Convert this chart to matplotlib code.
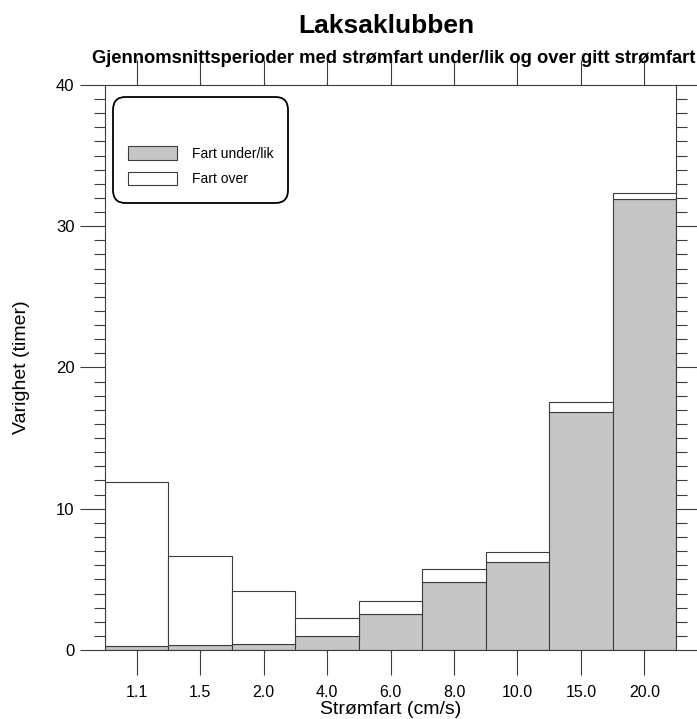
import matplotlib.pyplot as plt
import numpy as np
from matplotlib.patches import FancyBboxPatch

plt.rcParams['font.family'] = ['Liberation Sans', 'DejaVu Sans']

# data
speeds = ["1.1", "1.5", "2.0", "4.0", "6.0", "8.0", "10.0", "15.0", "20.0"]
under = [0.28, 0.38, 0.43, 0.99, 2.53, 4.78, 6.22, 16.86, 31.96]
total = [11.87, 6.69, 4.21, 2.27, 3.50, 5.70, 6.97, 17.54, 32.32]
over = [t - u for t, u in zip(total, under)]

x = np.arange(len(speeds))
edge = '#3c3c3c'

fig = plt.figure(figsize=(6.97, 7.19), dpi=100)
ax = fig.add_axes([105 / 697, 1 - 650 / 719, 571 / 697, 565 / 719])

b1 = ax.bar(x, under, width=1.0, color='#c6c6c6', edgecolor=edge, linewidth=0.8,
            label='Fart under/lik')
b2 = ax.bar(x, over, width=1.0, bottom=under, color='white', edgecolor=edge,
            linewidth=0.8, label='Fart over')

ax.set_xlim(-0.5, len(speeds) - 0.5)
ax.set_ylim(0, 40)

# x ticks at bin centres, bottom and top, pointing outward
ax.set_xticks(x)
ax.set_xticklabels(speeds, fontsize=11.5)
ax.tick_params(axis='x', which='major', direction='out', length=18, width=0.8,
               color=edge, top=True, bottom=True, pad=7.5)

# y ticks: majors every 10, minors every 1, both sides outward
ax.set_yticks([0, 10, 20, 30, 40])
ax.set_yticks(np.arange(0, 41, 1), minor=True)
ax.tick_params(axis='y', which='major', direction='out', length=18, width=0.8,
               color=edge, left=True, right=True, labelsize=12, pad=4)
ax.tick_params(axis='y', which='minor', direction='out', length=8, width=0.8,
               color=edge, left=True, right=True)

for s in ax.spines.values():
    s.set_color(edge)
    s.set_linewidth(0.8)

ax.set_xlabel('Strømfart (cm/s)', fontsize=14, va='center')
ax.xaxis.set_label_coords(0.5, (650 - 710) / 565)
ax.set_ylabel('Varighet (timer)', fontsize=14, va='center')
ax.yaxis.set_label_coords((22 - 105) / 571, 0.5)

fig.text(298 / 697, 1 - 33 / 719, 'Laksaklubben', ha='left', va='baseline',
         fontsize=19, fontweight='bold')
fig.text(92 / 697, 1 - 63 / 719,
         'Gjennomsnittsperioder med strømfart under/lik og over gitt strømfart',
         ha='left', va='baseline', fontsize=13.2, fontweight='bold')

# rounded legend box
box = FancyBboxPatch((113 / 697, 1 - 203 / 719), 175 / 697, 106 / 719,
                     boxstyle='round,pad=0,rounding_size=0.018',
                     transform=fig.transFigure, facecolor='white',
                     edgecolor='black', linewidth=1.3, zorder=5)
fig.add_artist(box)
leg = fig.legend(handles=[b1, b2], loc='upper left',
                 bbox_to_anchor=(128 / 697, 1 - 146 / 719),
                 frameon=False, fontsize=10, handlelength=3.5, handleheight=1.15,
                 labelspacing=0.8, handletextpad=1.1, borderaxespad=0,
                 borderpad=0)
leg.set_zorder(6)

fig.savefig('out.png', dpi=100)
